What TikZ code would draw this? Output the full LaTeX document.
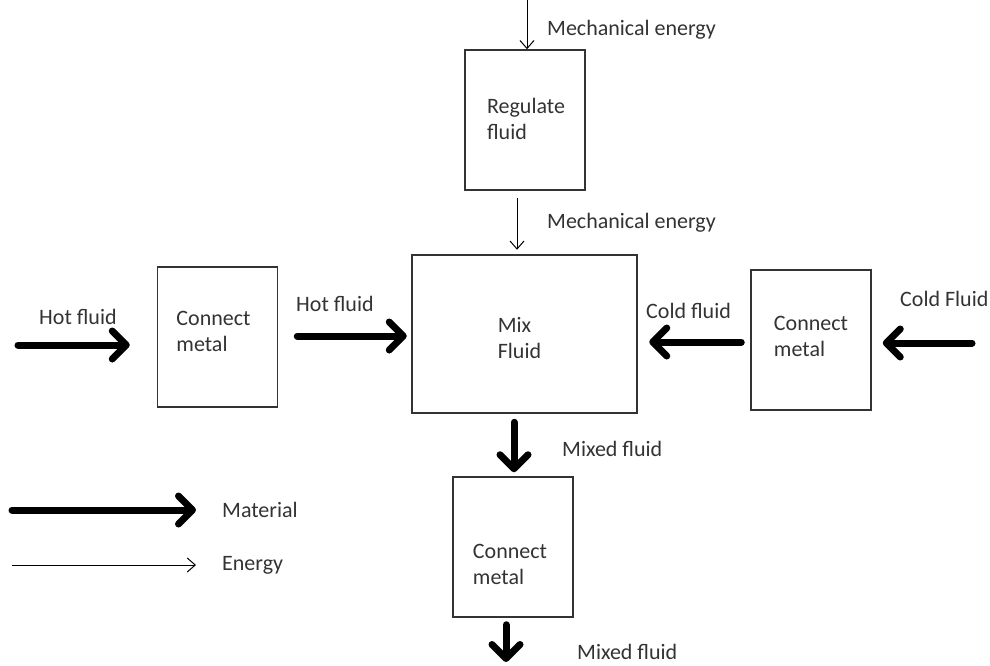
\documentclass[tikz,border=0pt]{standalone}
\usepackage{fontspec}
\setmainfont{Carlito}
\usetikzlibrary{arrows.meta,calc}
\newcommand{\boxtext}[3]{\raisebox{-#1}[0pt][0pt]{\hspace*{#2}\begin{tabular}{@{}l@{}}#3\end{tabular}}}
\tikzset{
  box/.style={draw=black!80, line width=1.5pt, minimum width=120pt, minimum height=140pt, align=left, inner sep=0pt},
  lbl/.style={anchor=west, inner sep=0pt, text=black!80},
  material/.style={line width=7pt, line cap=round, -{Straight Barb[length=14pt,width=28pt,line cap=round,line join=round]}},
  energy/.style={line width=1pt, -{Straight Barb[length=8pt,width=14pt]}},
}
\begin{document}
\begin{tikzpicture}[x=1pt,y=-1pt, every node/.style={font=\fontsize{22}{26}\selectfont, text=black!80}]
\useasboundingbox (0,0) rectangle (990,666);
% boxes
\node[box] (reg) at (525,120) {\boxtext{6pt}{2pt}{Regulate\\fluid}};
\node[box, line width=2.5pt, minimum width=225pt, minimum height=158pt] (mix) at (524.5,334) {\boxtext{11pt}{-10pt}{Mix\\Fluid}};
\node[box] (cml) at (217.5,337) {\boxtext{1.5pt}{-8pt}{Connect\\metal}};
\node[box] (cmr) at (811,340) {\boxtext{3.5pt}{0pt}{Connect\\metal}};
\node[box] (cmb) at (513,547) {\boxtext{24pt}{-6pt}{Connect\\metal}};
% free ends
\coordinate (etop) at (527,0);
\coordinate (hin) at (18,345);
\coordinate (cin) at (972,343);
\coordinate (mout) at (506,662);
\coordinate (lm1) at (12,510);
\coordinate (lm2) at (196,510);
\coordinate (le1) at (12,565);
\coordinate (le2) at (196,565);
% energy arrows
\draw[energy] (etop) -- (etop |- reg.north);
\draw[energy] ($(reg.south)+(-8,7)$) -- ($(mix.north)+(-7.5,-4)$);
% material arrows
\draw[material] (hin) -- ($(cml.west |- hin)+(-27,0)$);
\draw[material] ($(cml.east)+(19,-1)$) -- ($(mix.west)+(-4,2)$);
\draw[material] ($(cmr.west)+(-9,2)$) -- ($(mix.east)+(11,8)$);
\draw[material] (cin) -- ($(cmr.east |- cin)+(11,0)$);
\draw[material] ($(mix.south)+(-10.5,8)$) -- ($(cmb.north)+(1,-4)$);
\draw[material] ($(cmb.south -| mout)+(0,7)$) -- (mout);
% labels
\node[lbl] (l1) at (547,30) {Mechanical energy};
\node[lbl] (l2) at (547,223) {Mechanical energy};
\node[lbl] (l3) at (39,317) {Hot fluid};
\node[lbl] (l4) at (296,304) {Hot fluid};
\node[lbl] (l5) at (646,311) {Cold fluid};
\node[lbl] (l6) at (900,299) {Cold Fluid};
\node[lbl] (l7) at (562,449) {Mixed fluid};
\node[lbl] (l8) at (577,652) {Mixed fluid};
% legend
\draw[material] (lm1) -- (lm2);
\draw[energy] (le1) -- (le2);
\node[lbl] (l9) at (222,510) {Material};
\node[lbl] (l10) at (222,565) {Energy};
\end{tikzpicture}
\end{document}
